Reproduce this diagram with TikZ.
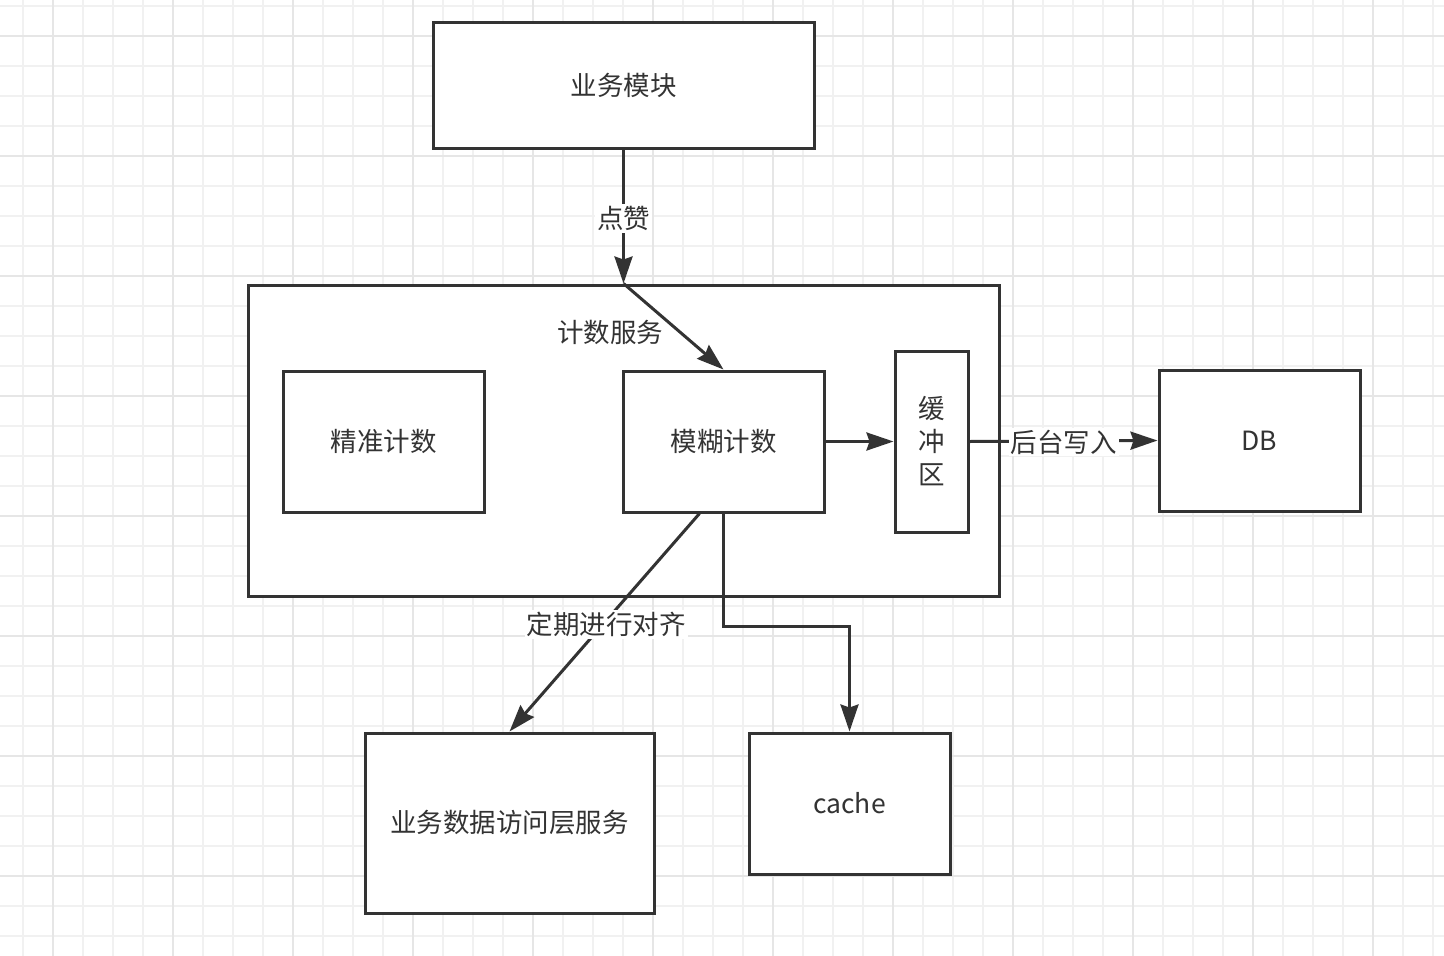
\documentclass[tikz,border=0pt]{standalone}
\usepackage{fontspec}
\setmainfont{Noto Sans CJK SC}
\usetikzlibrary{arrows.meta,calc}
\definecolor{ink}{HTML}{333333}
\definecolor{gminor}{HTML}{F1F1F1}
\definecolor{gmajor}{HTML}{E6E6E6}
\begin{document}
\begin{tikzpicture}[x=1pt,y=-1pt,
  box/.style={draw=ink,line width=3pt,fill=white,inner sep=0pt,text=ink,
    font=\fontsize{26.5}{33}\selectfont},
  conn/.style={draw=ink,line width=3pt,-{Stealth[length=27pt,width=18pt,inset=3pt]}},
  lbl/.style={fill=white,text=ink,inner sep=2pt,font=\fontsize{26.5}{33}\selectfont},
  minorg/.style={gminor,line width=2pt},
  majorg/.style={gmajor,line width=2pt}]
\useasboundingbox (0,0) rectangle (1444,956);
\fill[white] (0,0) rectangle (1444,956);
% grid
\foreach \x in {23,53,...,1433} \draw[minorg] (\x,0) -- (\x,956);
\foreach \y in {6,36,...,936} \draw[minorg] (0,\y) -- (1444,\y);
\foreach \x in {53,173,...,1373} \draw[majorg] (\x,0) -- (\x,956);
\foreach \y in {36,156,...,876} \draw[majorg] (0,\y) -- (1444,\y);
% nodes
\node[box,minimum width=381pt,minimum height=126pt] (top) at (623.5,85) {业务模块};
\node[box,minimum width=751pt,minimum height=311pt] (svc) at (623.5,440.5) {};
\node[text=ink,font=\fontsize{26.5}{33}\selectfont] (svclbl) at (610,332) {计数服务};
\node[box,minimum width=201pt,minimum height=141pt] (exact) at (383.5,441.5) {精准计数};
\node[box,minimum width=201pt,minimum height=141pt] (fuzzy) at (723.5,441.5) {模糊计数};
\node[box,minimum width=73pt,minimum height=181pt,align=center] (buf) at (931.5,441.5) {缓\\冲\\区};
\node[box,minimum width=201pt,minimum height=141pt] (db) at (1259.5,440.5) {DB};
\node[box,minimum width=289pt,minimum height=180pt] (dal) at (509.5,823) {业务数据访问层服务};
\node[box,minimum width=201pt,minimum height=141pt] (cache) at (849.5,803.5) {cache};
\coordinate (fz) at ([xshift=-24pt]fuzzy.south);
% connectors
\draw[conn] (top.south) -- node[lbl,yshift=-2pt] {点赞} (svc.north);
\draw[conn] (svc.north) -- (fuzzy.north);
\draw[conn] (fuzzy.east) -- (buf.west);
\draw[conn] (buf.east) -- node[lbl,yshift=-1pt] {后台写入} (db.west);
\draw[conn] (fz) -- node[lbl,pos=0.49,yshift=-4pt] {定期进行对齐} (dal.north);
\draw[conn] (fuzzy.south) -- ++(0,113) -| (cache.north);
\end{tikzpicture}
\end{document}
